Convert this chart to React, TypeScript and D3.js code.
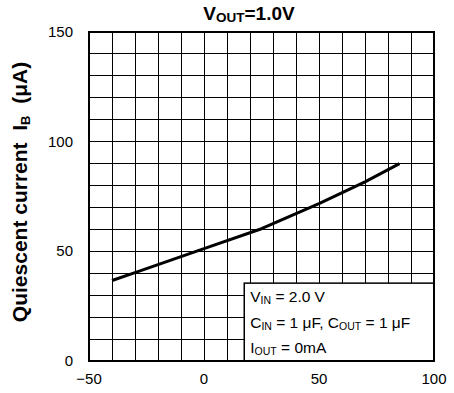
import React, { useEffect, useRef } from "react";
import * as d3 from "d3";

const TEMPS = [-40, -30, 0, 25, 50, 70, 85];
const IB = [36.7, 40.3, 51.2, 60.3, 71.8, 81.7, 90.0];
const X_TICKS = [-50, 0, 50, 100];
const Y_TICKS = [0, 50, 100, 150];
const CONDITIONS = [
  ["V", "IN", " = 2.0 V"],
  ["C", "IN", " = 1 \u03bcF, C", "OUT", " = 1 \u03bcF"],
  ["I", "OUT", " = 0mA"],
];

const FONT = "'Liberation Sans', Arial, Helvetica, sans-serif";

export default function App() {
  const svgRef = useRef<SVGSVGElement>(null);

  useEffect(() => {
    const width = 454;
    const height = 393;
    const margin = { top: 32, right: 20, bottom: 32, left: 89 };
    const innerW = width - margin.left - margin.right;
    const innerH = height - margin.top - margin.bottom;

    const svg = d3.select(svgRef.current);
    svg.selectAll("*").remove();

    const g = svg.append("g").attr("transform", `translate(${margin.left},${margin.top})`);

    const x = d3.scaleLinear().domain([-50, 100]).range([0, innerW]);
    const y = d3.scaleLinear().domain([0, 150]).range([innerH, 0]);

    // Grid lines every 10 units
    const gridX = d3.range(-40, 100, 10);
    const gridY = d3.range(10, 150, 10);
    g.selectAll(".grid-x")
      .data(gridX)
      .join("line")
      .attr("x1", d => x(d)).attr("x2", d => x(d))
      .attr("y1", 0).attr("y2", innerH)
      .attr("stroke", "#000").attr("stroke-width", 1)
      .attr("shape-rendering", "crispEdges");
    g.selectAll(".grid-y")
      .data(gridY)
      .join("line")
      .attr("x1", 0).attr("x2", innerW)
      .attr("y1", d => y(d)).attr("y2", d => y(d))
      .attr("stroke", "#000").attr("stroke-width", 1)
      .attr("shape-rendering", "crispEdges");

    // Curve
    const pts = TEMPS.map((t, i) => [t, IB[i]] as [number, number]);
    const line = d3.line<[number, number]>().x(d => x(d[0])).y(d => y(d[1]));
    g.append("path")
      .datum(pts)
      .attr("d", line)
      .attr("fill", "none")
      .attr("stroke", "#000")
      .attr("stroke-width", 3)
      .attr("stroke-linejoin", "round");

    // Conditions box
    const boxX = x(17.5);
    const boxY = y(35.5);
    g.append("rect")
      .attr("x", boxX).attr("y", boxY)
      .attr("width", innerW - boxX).attr("height", innerH - boxY)
      .attr("fill", "#fff").attr("stroke", "#000").attr("stroke-width", 1.5);

    CONDITIONS.forEach((parts, i) => {
      const t = g.append("text")
        .attr("x", boxX + 6)
        .attr("y", boxY + 19 + i * 25.5)
        .attr("font-family", FONT)
        .attr("font-size", 15.5)
        .attr("fill", "#000");
      parts.forEach((p, j) => {
        const sub = j % 2 === 1;
        t.append("tspan")
          .attr("font-size", sub ? 10.5 : 15.5)
          .attr("dy", sub ? 2 : j === 0 ? 0 : -2)
          .text(p);
      });
    });

    // Plot border
    g.append("rect")
      .attr("x", 0).attr("y", 0)
      .attr("width", innerW).attr("height", innerH)
      .attr("fill", "none").attr("stroke", "#000").attr("stroke-width", 2);

    // Tick labels
    g.selectAll(".xt")
      .data(X_TICKS)
      .join("text")
      .attr("x", d => x(d)).attr("y", innerH + 23)
      .attr("text-anchor", "middle")
      .attr("font-family", FONT).attr("font-size", 15)
      .text(d => (d < 0 ? "\u2212" + Math.abs(d) : String(d)));

    g.selectAll(".yt")
      .data(Y_TICKS)
      .join("text")
      .attr("x", -16).attr("y", d => y(d) + 5)
      .attr("text-anchor", "end")
      .attr("font-family", FONT).attr("font-size", 15)
      .text(d => d);

    // Title
    const title = svg.append("text")
      .attr("x", 249).attr("y", 20)
      .attr("text-anchor", "middle")
      .attr("font-family", FONT).attr("font-size", 19).attr("font-weight", "bold");
    title.append("tspan").text("V");
    title.append("tspan").attr("font-size", 13.5).attr("dy", 2).text("OUT");
    title.append("tspan").attr("dy", -2).text("=1.0V");

    // Y axis label
    const yl = svg.append("text")
      .attr("transform", `translate(27,192) rotate(-90)`)
      .attr("text-anchor", "middle")
      .attr("font-family", FONT).attr("font-size", 21).attr("font-weight", "bold");
    yl.append("tspan").text("Quiescent current\u00a0\u00a0I");
    yl.append("tspan").attr("font-size", 13).attr("dy", 3).text("B");
    yl.append("tspan").attr("dy", -3).text("\u00a0\u00a0(\u03bcA)");
  }, []);

  return (
    <svg
      ref={svgRef}
      width={454}
      height={393}
      style={{ position: "absolute", left: 0, top: 0, background: "#fff" }}
    />
  );
}
